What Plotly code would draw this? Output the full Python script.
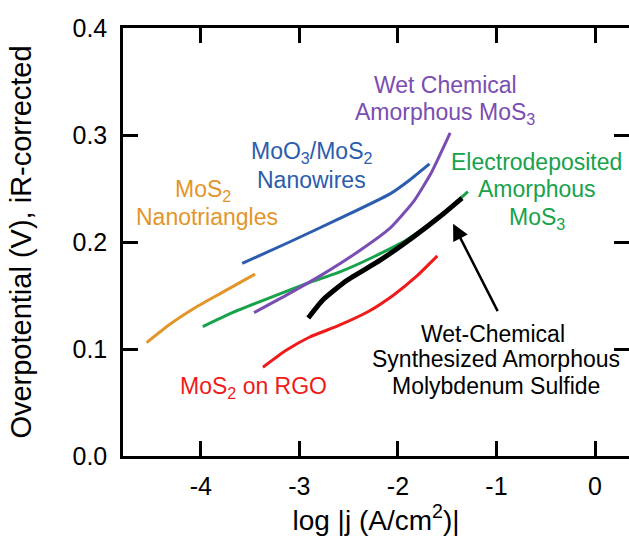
import plotly.graph_objects as go

# ---- data ----
orange_x = [-4.55, -4.30, -4.05, -3.80, -3.45]
orange_y = [0.106, 0.124, 0.139, 0.152, 0.170]

blue_x = [-3.58, -3.10, -2.59, -2.08, -1.88, -1.68]
blue_y = [0.180, 0.200, 0.222, 0.245, 0.258, 0.273]

purple_x = [-3.46, -3.10, -2.76, -2.42, -2.08, -1.84, -1.66, -1.47]
purple_y = [0.134, 0.152, 0.170, 0.190, 0.213, 0.238, 0.265, 0.302]

green_x = [-3.98, -3.68, -3.27, -2.93, -2.59, -2.25, -1.91, -1.57, -1.29]
green_y = [0.121, 0.134, 0.149, 0.161, 0.172, 0.186, 0.202, 0.224, 0.247]

black_x = [-2.91, -2.76, -2.52, -2.18, -1.84, -1.57, -1.35]
black_y = [0.129, 0.146, 0.164, 0.183, 0.205, 0.224, 0.241]

red_x = [-3.37, -3.13, -2.90, -2.60, -2.30, -2.05, -1.81, -1.60]
red_y = [0.083, 0.099, 0.111, 0.122, 0.135, 0.150, 0.168, 0.187]

x_ticks = [-4, -3, -2, -1, 0]
y_ticks = [0.0, 0.1, 0.2, 0.3, 0.4]
y_tick_text = ["0.0", "0.1", "0.2", "0.3", "0.4"]

FONT = "Liberation Sans, Arial, Helvetica, sans-serif"

C_ORANGE = "#E3952A"
C_BLUE = "#2B5CAE"
C_PURPLE = "#7A4DB3"
C_GREEN = "#17A24B"
C_RED = "#F01A1A"
C_BLACK = "#000000"

fig = go.Figure()

series = [
    (orange_x, orange_y, C_ORANGE, 3),
    (blue_x, blue_y, C_BLUE, 3),
    (green_x, green_y, C_GREEN, 3),
    (purple_x, purple_y, C_PURPLE, 3),
    (black_x, black_y, C_BLACK, 5),
    (red_x, red_y, C_RED, 3),
]
for xs, ys, col, w in series:
    fig.add_trace(go.Scatter(x=xs, y=ys, mode="lines",
                             line=dict(color=col, width=w, shape="spline", smoothing=0.5),
                             showlegend=False, hoverinfo="skip"))

# invisible trace to host the right-hand tick axis
fig.add_trace(go.Scatter(x=[None], y=[None], yaxis="y2", showlegend=False, hoverinfo="skip"))

ann_size = 23
labels = [
    ("Wet Chemical", -1.52, 0.347, C_PURPLE),
    ("Amorphous MoS<sub>3</sub>", -1.52, 0.320, C_PURPLE),
    ("MoO<sub>3</sub>/MoS<sub>2</sub>", -2.88, 0.284, C_BLUE),
    ("Nanowires", -2.88, 0.258, C_BLUE),
    ("MoS<sub>2</sub>", -3.98, 0.248, C_ORANGE),
    ("Nanotriangles", -3.94, 0.223, C_ORANGE),
    ("Electrodeposited", -0.59, 0.275, C_GREEN),
    ("Amorphous", -0.59, 0.250, C_GREEN),
    ("MoS<sub>3</sub>", -0.59, 0.222, C_GREEN),
    ("Wet-Chemical", -1.04, 0.114, C_BLACK),
    ("Synthesized Amorphous", -1.00, 0.091, C_BLACK),
    ("Molybdenum Sulfide", -1.00, 0.065, C_BLACK),
    ("MoS<sub>2</sub> on RGO", -3.47, 0.064, C_RED),
]
for txt, x, y, col in labels:
    fig.add_annotation(x=x, y=y, text=txt, showarrow=False, xanchor="center", yanchor="middle",
                       font=dict(family=FONT, size=ann_size, color=col))

# arrow
fig.add_annotation(x=-1.44, y=0.217, ax=-0.98, ay=0.134, axref="x", ayref="y",
                   xref="x", yref="y", text="", showarrow=True,
                   arrowhead=2, arrowsize=1.3, arrowwidth=2.5, arrowcolor="black")

axis_common = dict(showgrid=False, zeroline=False, linecolor="black", linewidth=2.5,
                   ticks="inside", ticklen=15, tickwidth=2.5, tickcolor="black")

fig.update_layout(
    width=629, height=542,
    margin=dict(l=123, r=0, t=28, b=86),
    paper_bgcolor="white", plot_bgcolor="white",
    font=dict(family=FONT, color="black"),
    xaxis=dict(range=[-4.79, 0.345], tickvals=x_ticks, ticktext=[str(v) for v in x_ticks],
               showline=True, mirror="ticks",
               tickfont=dict(size=25), ticklabelstandoff=6,
               title=dict(text="log |j (A/cm<sup>2</sup>)|", font=dict(size=28), standoff=12),
               **axis_common),
    yaxis=dict(range=[0, 0.4], tickvals=y_ticks, ticktext=y_tick_text,
               showline=True, tickfont=dict(size=25), ticklabelstandoff=8,
               title=dict(text="Overpotential (V), iR-corrected", font=dict(size=29), standoff=33),
               **axis_common),
    yaxis2=dict(range=[0, 0.4], tickvals=y_ticks, overlaying="y", side="right",
                showline=False, showticklabels=False, showgrid=False, zeroline=False,
                ticks="inside", ticklen=15, tickwidth=2.5, tickcolor="black"),
)

fig.write_html("out.html")
